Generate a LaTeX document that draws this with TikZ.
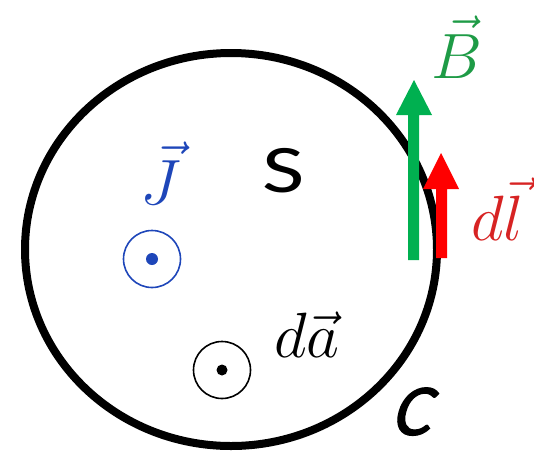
\RequirePackage{fix-cm}
\documentclass[tikz,border=0pt]{standalone}
\usepackage{fontspec}
\newfontfamily\carlito[FakeStretch=1.35]{Carlito}
\newfontfamily\carlitoc[FakeSlant=0.28,FakeBold=1.6]{Carlito}
\definecolor{arrgreen}{RGB}{0,176,80}
\definecolor{labgreen}{RGB}{30,155,70}
\definecolor{arrred}{RGB}{255,0,0}
\definecolor{labred}{RGB}{215,35,35}
\definecolor{jblue}{RGB}{30,70,185}
\tikzset{
  lbl/.style={inner sep=0pt, anchor=base west, font=\fontsize{64}{70}\selectfont},
  sfl/.style={inner sep=0pt, anchor=base west, font=\carlito\fontsize{68}{74}\selectfont},
  cfl/.style={inner sep=0pt, anchor=base west, font=\carlitoc\fontsize{73}{78}\selectfont},
  odot/.style={circle, draw, minimum size=57pt, line width=1.6pt, inner sep=0pt},
}
\begin{document}
\begin{tikzpicture}[x=1pt,y=-1pt]
\useasboundingbox (0,0) rectangle (534,450);
% loop C and surface S
\draw[line width=8pt] (231,249.5) ellipse [x radius=206, y radius=196.5];
% B arrow
\fill[arrgreen] (408,260) -- (419,260) -- (419,115) -- (432,115) -- (414,80) -- (396,115) -- (408,115) -- cycle;
% dl arrow
\fill[arrred] (436,258) -- (447,258) -- (447,189) -- (459,189) -- (441,153) -- (423,189) -- (436,189) -- cycle;
\node[lbl, text=labgreen] (B) at (431,78) {$\vec{B}$};
\node[lbl, text=labred] (dl) at (471,240) {$d\vec{l}$};
\node[lbl, text=jblue] (J) at (140,204) {$\vec{J}$};
\node[lbl] (da) at (274,357) {$d\vec{a}$};
\node[sfl] (S) at (262,192) {S};
\node[cfl] (C) at (390,435) {C};
% odots
\node[odot, draw=jblue] (jdot) at (152,259) {};
\fill[jblue] (jdot.center) circle (6);
\node[odot] (adot) at (222,370) {};
\fill (adot.center) circle (5.5);
\end{tikzpicture}
\end{document}
